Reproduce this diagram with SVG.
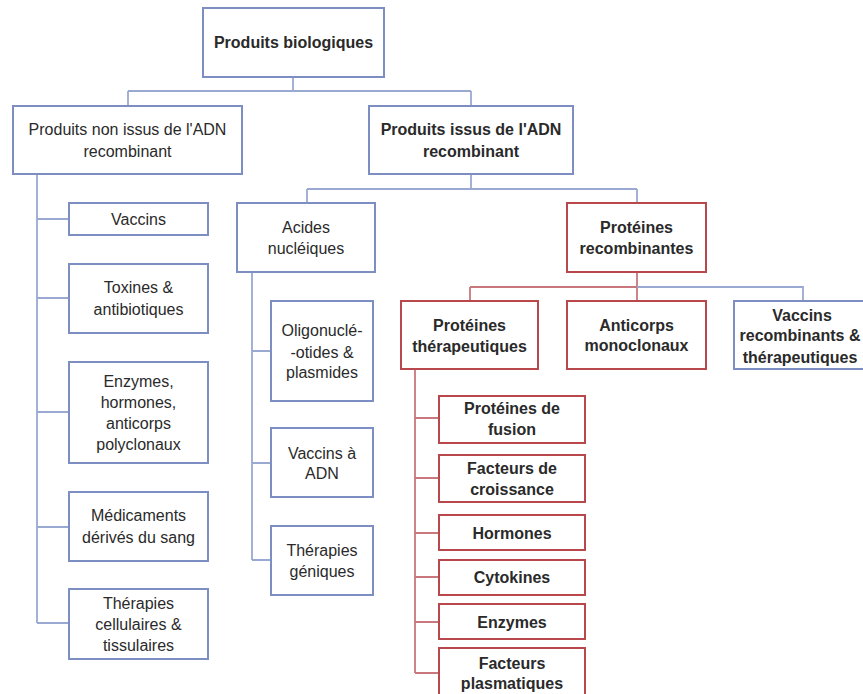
<svg xmlns="http://www.w3.org/2000/svg" width="863" height="694" viewBox="0 0 863 694">
<style>
  .bb { fill:#ffffff; stroke:#7d8fc2; stroke-width:2; }
  .rb { fill:#ffffff; stroke:#b8484c; stroke-width:2; }
  .bl { fill:none; stroke:#9aa9d2; stroke-width:1.8; }
  .rl { fill:none; stroke:#c8787c; stroke-width:1.8; }
  text { font-family:"Liberation Sans", Arial, sans-serif; font-size:16px; fill:#2a2a2a; text-anchor:middle; }
  .b { font-weight:bold; }
</style>
<rect width="863" height="694" fill="#ffffff"/>
<g id="connectors">
  <path class="bl" d="M293,77 V91 M128,91 H471 M128,91 V106 M471,91 V106"/>
  <path class="bl" d="M37,174 V623 M37,219 H69 M37,298 H69 M37,412 H69 M37,527 H69 M37,623 H69"/>
  <path class="bl" d="M471,174 V189 M307,189 H637 M307,189 V203 M637,189 V203"/>
  <path class="bl" d="M252,272 V560 M252,351 H271 M252,463 H271 M252,560 H271"/>
  <path class="rl" d="M637,272 V287 M470,287 H637 M470,287 V301 M637,287 V301"/>
  <path class="bl" d="M637,287 H803 V301"/>
  <path class="rl" d="M415,369 V673 M415,418 H439 M415,478 H439 M415,533 H439 M415,577 H439 M415,622 H439 M415,673 H439"/>
</g>
<g id="root"><rect class="bb" x="203" y="8" width="181" height="69"/><text class="b" x="293.5" y="48">Produits biologiques</text></g>
<g id="non-adn"><rect class="bb" x="13" y="106" width="229" height="68"/><text x="127.5" y="135">Produits non issus de l'ADN</text><text x="127.5" y="157">recombinant</text></g>
<g id="adn"><rect class="bb" x="369" y="106" width="204" height="68"/><text class="b" x="471" y="135">Produits issus de l'ADN</text><text class="b" x="471" y="157">recombinant</text></g>
<g id="vaccins"><rect class="bb" x="69" y="203" width="139" height="32"/><text x="138.5" y="225">Vaccins</text></g>
<g id="toxines"><rect class="bb" x="69" y="264" width="139" height="69"/><text x="138.5" y="293">Toxines &amp;</text><text x="138.5" y="315">antibiotiques</text></g>
<g id="enzymes-poly"><rect class="bb" x="69" y="362" width="139" height="101"/><text x="138.5" y="387">Enzymes,</text><text x="138.5" y="408">hormones,</text><text x="138.5" y="429">anticorps</text><text x="138.5" y="450">polyclonaux</text></g>
<g id="medicaments"><rect class="bb" x="69" y="492" width="139" height="69"/><text x="138.5" y="521">Médicaments</text><text x="138.5" y="543">dérivés du sang</text></g>
<g id="therapies-cell"><rect class="bb" x="69" y="589" width="139" height="70"/><text x="138.5" y="609">Thérapies</text><text x="138.5" y="630">cellulaires &amp;</text><text x="138.5" y="651">tissulaires</text></g>
<g id="acides"><rect class="bb" x="237" y="203" width="138" height="69"/><text x="306" y="233">Acides</text><text x="306" y="254">nucléiques</text></g>
<g id="oligo"><rect class="bb" x="271" y="301" width="102" height="100"/><text x="322" y="336">Oligonuclé-</text><text x="322" y="358">-otides &amp;</text><text x="322" y="378">plasmides</text></g>
<g id="vaccins-adn"><rect class="bb" x="271" y="428" width="102" height="69"/><text x="322" y="459">Vaccins à</text><text x="322" y="479">ADN</text></g>
<g id="therapies-gen"><rect class="bb" x="271" y="526" width="102" height="69"/><text x="322" y="556">Thérapies</text><text x="322" y="577">géniques</text></g>
<g id="prot-recomb"><rect class="rb" x="567" y="203" width="139" height="69"/><text class="b" x="636.5" y="233">Protéines</text><text class="b" x="636.5" y="254">recombinantes</text></g>
<g id="prot-ther"><rect class="rb" x="401" y="301" width="137" height="68"/><text class="b" x="469.5" y="331">Protéines</text><text class="b" x="469.5" y="352">thérapeutiques</text></g>
<g id="anticorps"><rect class="rb" x="567" y="301" width="139" height="68"/><text class="b" x="636.5" y="331">Anticorps</text><text class="b" x="636.5" y="351">monoclonaux</text></g>
<g id="vaccins-recomb"><rect class="bb" x="734" y="301" width="140" height="68"/><text class="b" x="802" y="321">Vaccins</text><text class="b" x="800" y="341">recombinants &amp;</text><text class="b" x="800" y="363">thérapeutiques</text></g>
<g id="fusion"><rect class="rb" x="439" y="396" width="146" height="47"/><text class="b" x="512" y="414">Protéines de</text><text class="b" x="512" y="435">fusion</text></g>
<g id="croissance"><rect class="rb" x="439" y="455" width="146" height="47"/><text class="b" x="512" y="474">Facteurs de</text><text class="b" x="512" y="495">croissance</text></g>
<g id="hormones"><rect class="rb" x="439" y="515" width="146" height="35"/><text class="b" x="512" y="539">Hormones</text></g>
<g id="cytokines"><rect class="rb" x="439" y="560" width="146" height="35"/><text class="b" x="512" y="583">Cytokines</text></g>
<g id="enzymes-r"><rect class="rb" x="439" y="604" width="146" height="35"/><text class="b" x="512" y="628">Enzymes</text></g>
<g id="plasmatiques"><rect class="rb" x="439" y="648" width="146" height="60"/><text class="b" x="512" y="669">Facteurs</text><text class="b" x="512" y="689">plasmatiques</text></g>
</svg>
